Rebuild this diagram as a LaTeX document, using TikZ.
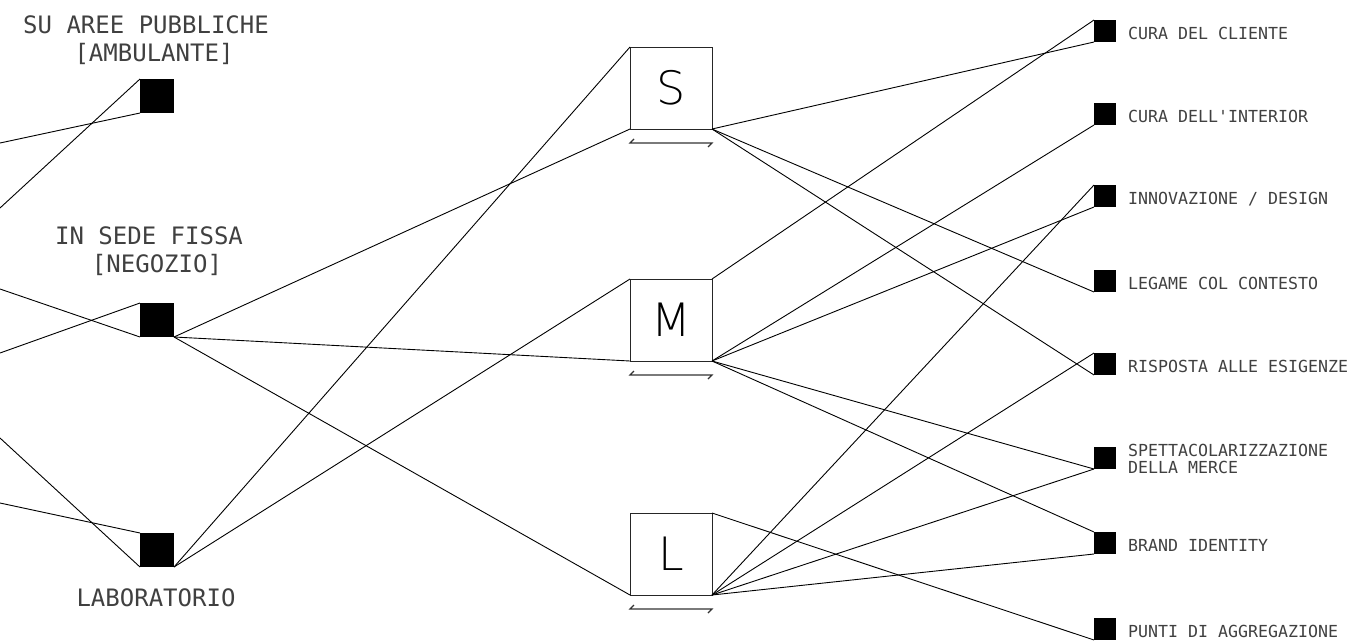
\documentclass[tikz,border=0pt]{standalone}
\usepackage{fontspec}
\newfontfamily\monofont{DejaVu Sans Mono}
\newfontfamily\lightfont{DejaVu Sans ExtraLight}
\usetikzlibrary{positioning}

\tikzset{
  bigsq/.style={fill=black, minimum size=34pt, inner sep=0, outer sep=0},
  smallsq/.style={fill=black, minimum size=22pt, inner sep=0, outer sep=0},
  sizebox/.style={draw=black!85, line width=1pt, minimum size=82pt, inner sep=0, outer sep=0,
    font=\lightfont\fontsize{46}{46}\selectfont},
  link/.style={line width=0.9pt},
  dimline/.style={line width=1.1pt, draw=black!80},
  leftlbl/.style={font=\monofont\fontsize{24}{28}\selectfont, text=black!75, inner sep=0, anchor=base},
  rightlbl/.style={font=\monofont\fontsize{16.6}{17}\selectfont, text=black!75, inner sep=0,
    text height=12pt, text depth=0pt},
  rightlbltwo/.style={font=\monofont\fontsize{16.6}{16.5}\selectfont, text=black!75, inner sep=0, align=left},
}

\begin{document}
\begin{tikzpicture}[x=1pt, y=-1pt]
  \useasboundingbox (0,0) rectangle (1349,641);

  % tipi di commercio
  \node[bigsq] (ambsq) at (157,96) {};
  \node[bigsq] (negsq) at (157,320) {};
  \node[bigsq] (labsq) at (157,550) {};
  \node[leftlbl] (amblbl) at (146,33) {SU AREE PUBBLICHE};
  \node[leftlbl] (amblblb) at (154,61) {[AMBULANTE]};
  \node[leftlbl] (neglbl) at (149,244) {IN SEDE FISSA};
  \node[leftlbl] (neglblb) at (157,272) {[NEGOZIO]};
  \node[leftlbl] (lablbl) at (156,606) {LABORATORIO};

  % dimensioni
  \node[sizebox] (sbox) at (671,88) {S};
  \node[sizebox] (mbox) at (671,320) {M};
  \node[sizebox] (lbox) at (671,554) {L};
  \foreach \b in {sbox,mbox,lbox}
    \draw[dimline] ([yshift=-14pt]\b.south west) ++(4,-4) -- ++(-4,4) -- ++(82,0) -- ++(-4,4);

  % qualita
  \node[smallsq] (cliente) at (1105,31) {};
  \node[smallsq] (interior) at (1105,114) {};
  \node[smallsq] (design) at (1105,196) {};
  \node[smallsq] (contesto) at (1105,281) {};
  \node[smallsq] (esigenze) at (1105,364) {};
  \node[smallsq] (merce) at (1105,458) {};
  \node[smallsq] (brand) at (1105,543) {};
  \node[smallsq] (aggreg) at (1105,629) {};
  \node[rightlbl, right=12pt of cliente, yshift=-2pt] {CURA DEL CLIENTE};
  \node[rightlbl, right=12pt of interior, yshift=-2pt] {CURA DELL'INTERIOR};
  \node[rightlbl, right=12pt of design, yshift=-2pt] {INNOVAZIONE / DESIGN};
  \node[rightlbl, right=12pt of contesto, yshift=-2pt] {LEGAME COL CONTESTO};
  \node[rightlbl, right=12pt of esigenze, yshift=-2pt] {RISPOSTA ALLE ESIGENZE};
  \node[rightlbltwo, right=12pt of merce, yshift=-1pt] {SPETTACOLARIZZAZIONE\\DELLA MERCE};
  \node[rightlbl, right=12pt of brand, yshift=-2pt] {BRAND IDENTITY};
  \node[rightlbl, right=12pt of aggreg, yshift=-2pt] {PUNTI DI AGGREGAZIONE};

  % ingressi dal bordo
  \coordinate (ambin1) at (0,143);
  \coordinate (ambin2) at (0,208);
  \coordinate (negin1) at (0,289);
  \coordinate (negin2) at (0,353);
  \coordinate (labin1) at (0,438);
  \coordinate (labin2) at (0,503);
  \draw[link] (ambin1) -- (ambsq.south west);
  \draw[link] (ambin2) -- (ambsq.north west);
  \draw[link] (negin1) -- (negsq.south west);
  \draw[link] (negin2) -- (negsq.north west);
  \draw[link] (labin1) -- (labsq.south west);
  \draw[link] (labin2) -- (labsq.north west);

  % commercio -> dimensioni
  \draw[link] (negsq.south east) -- (sbox.south west);
  \draw[link] (negsq.south east) -- (mbox.south west);
  \draw[link] (negsq.south east) -- (lbox.south west);
  \draw[link] (labsq.south east) -- (sbox.north west);
  \draw[link] (labsq.south east) -- (mbox.north west);

  % dimensioni -> qualita
  \draw[link] (sbox.south east) -- (cliente.south west);
  \draw[link] (sbox.south east) -- (contesto.south west);
  \draw[link] (sbox.south east) -- (esigenze.south west);
  \draw[link] (mbox.north east) -- (cliente.north west);
  \draw[link] (mbox.south east) -- (interior.south west);
  \draw[link] (mbox.south east) -- (design.south west);
  \draw[link] (mbox.south east) -- (merce.south west);
  \draw[link] (mbox.south east) -- (brand.north west);
  \draw[link] (lbox.south east) -- (design.north west);
  \draw[link] (lbox.south east) -- (esigenze.north west);
  \draw[link] (lbox.south east) -- (merce.south west);
  \draw[link] (lbox.south east) -- (brand.south west);
  \draw[link] (lbox.north east) -- (aggreg.south west);
\end{tikzpicture}
\end{document}
